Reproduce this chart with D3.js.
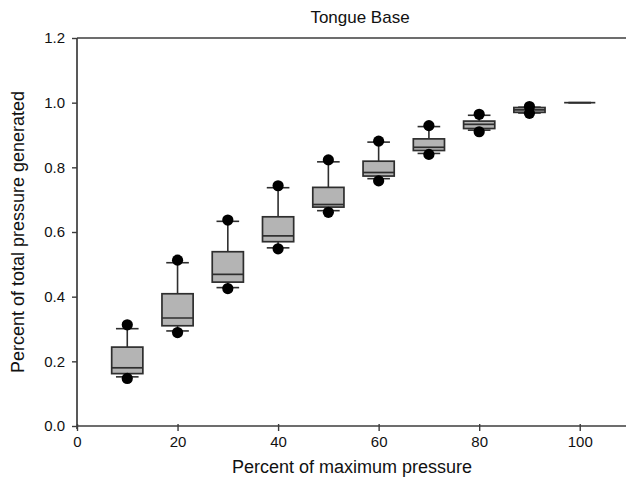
<!DOCTYPE html>
<html>
<head>
<meta charset="utf-8">
<script src="https://cdn.jsdelivr.net/npm/d3@7"></script>
<style>
  html, body { margin: 0; padding: 0; background: #fff; }
  svg { display: block; font-family: "Liberation Sans", Arial, sans-serif; }
</style>
</head>
<body>
<svg id="chart" width="626" height="479"></svg>
<script>
// ---- data ----
const categories   = [10, 20, 30, 40, 50, 60, 70, 80, 90, 100];
const outlierHigh  = [0.313, 0.513, 0.637, 0.743, 0.823, 0.881, 0.929, 0.964, 0.988, null];
const whiskerHigh  = [0.301, 0.505, 0.633, 0.737, 0.817, 0.878, 0.926, 0.961, 0.986, 1.0];
const q3Values     = [0.244, 0.409, 0.539, 0.647, 0.738, 0.819, 0.888, 0.943, 0.985, 1.0];
const medianValues = [0.180, 0.334, 0.469, 0.588, 0.685, 0.784, 0.862, 0.933, 0.978, 1.0];
const q1Values     = [0.162, 0.310, 0.445, 0.570, 0.677, 0.773, 0.852, 0.920, 0.970, 1.0];
const whiskerLow   = [0.152, 0.294, 0.428, 0.551, 0.666, 0.765, 0.843, 0.915, 0.968, 1.0];
const outlierLow   = [0.147, 0.289, 0.425, 0.548, 0.661, 0.758, 0.840, 0.910, 0.967, null];
const xTicks = [0, 20, 40, 60, 80, 100];
const yTicks = [0.0, 0.2, 0.4, 0.6, 0.8, 1.0, 1.2];
const titleText = "Tongue Base";
const xLabel = "Percent of maximum pressure";
const yLabel = "Percent of total pressure generated";

const rows = categories.map((c, i) => ({
  x: c, oh: outlierHigh[i], wh: whiskerHigh[i], q3: q3Values[i],
  med: medianValues[i], q1: q1Values[i], wl: whiskerLow[i], ol: outlierLow[i]
}));

// ---- layout ----
const svg = d3.select("#chart");
const plotL = 77, plotR = 630, plotT = 38, plotB = 426;
const x = d3.scaleLinear().domain([0, 110]).range([plotL, plotR]);
const y = d3.scaleLinear().domain([0, 1.2]).range([plotB, plotT]);
const axisColor = "#3c3c3c";
const boxW = (x(10) - x(0)) * 0.62;
const capW = (x(10) - x(0)) * 0.45;
const fontFam = "Liberation Sans, Arial, sans-serif";

// top frame line
svg.append("line")
  .attr("x1", plotL).attr("x2", 626).attr("y1", y(1.2)).attr("y2", y(1.2))
  .attr("stroke", axisColor).attr("stroke-width", 1.7);

// x axis
const gx = svg.append("g").attr("transform", `translate(0,${plotB})`)
  .call(d3.axisBottom(x).tickValues(xTicks).tickFormat(d3.format("d")).tickSize(5).tickPadding(5));
gx.select(".domain").attr("stroke", axisColor).attr("stroke-width", 1.7)
  .attr("d", `M${plotL},0H626`);
gx.selectAll(".tick line").attr("stroke", axisColor).attr("stroke-width", 1.4).attr("y1", -2);
gx.selectAll(".tick text").attr("font-size", 15).attr("fill", "#111").attr("font-family", fontFam);

// y axis
const gy = svg.append("g").attr("transform", `translate(${plotL},0)`)
  .call(d3.axisLeft(y).tickValues(yTicks).tickFormat(d3.format(".1f")).tickSize(5).tickPadding(7));
gy.select(".domain").attr("stroke", axisColor).attr("stroke-width", 1.7)
  .attr("d", `M0,${plotT}V${plotB + 3}`);
gy.selectAll(".tick line").attr("stroke", axisColor).attr("stroke-width", 1.4);
gy.selectAll(".tick text").attr("font-size", 15).attr("fill", "#111").attr("font-family", fontFam);

// ---- boxes ----
const g = svg.append("g");
const boxes = g.selectAll("g.box").data(rows).join("g").attr("class", "box");
const markStroke = "#2e2e2e";

// whiskers
boxes.append("line")
  .attr("x1", d => x(d.x)).attr("x2", d => x(d.x))
  .attr("y1", d => y(d.q3)).attr("y2", d => y(d.wh))
  .attr("stroke", markStroke).attr("stroke-width", 1.6);
boxes.append("line")
  .attr("x1", d => x(d.x)).attr("x2", d => x(d.x))
  .attr("y1", d => y(d.q1)).attr("y2", d => y(d.wl))
  .attr("stroke", markStroke).attr("stroke-width", 1.6);
// caps
boxes.append("line")
  .attr("x1", d => x(d.x) - capW / 2).attr("x2", d => x(d.x) + capW / 2)
  .attr("y1", d => y(d.wh)).attr("y2", d => y(d.wh))
  .attr("stroke", markStroke).attr("stroke-width", 1.6);
boxes.append("line")
  .attr("x1", d => x(d.x) - capW / 2).attr("x2", d => x(d.x) + capW / 2)
  .attr("y1", d => y(d.wl)).attr("y2", d => y(d.wl))
  .attr("stroke", markStroke).attr("stroke-width", 1.6);
// box
boxes.append("rect")
  .attr("x", d => x(d.x) - boxW / 2).attr("width", boxW)
  .attr("y", d => y(d.q3)).attr("height", d => y(d.q1) - y(d.q3))
  .attr("fill", "#b4b4b4").attr("stroke", markStroke).attr("stroke-width", 1.7);
// median
boxes.append("line")
  .attr("x1", d => x(d.x) - boxW / 2).attr("x2", d => x(d.x) + boxW / 2)
  .attr("y1", d => y(d.med)).attr("y2", d => y(d.med))
  .attr("stroke", markStroke).attr("stroke-width", 1.7);
// outliers
boxes.filter(d => d.oh != null).append("circle")
  .attr("cx", d => x(d.x)).attr("cy", d => y(d.oh)).attr("r", 5.6).attr("fill", "#000");
boxes.filter(d => d.ol != null).append("circle")
  .attr("cx", d => x(d.x)).attr("cy", d => y(d.ol)).attr("r", 5.6).attr("fill", "#000");

// ---- labels ----
svg.append("text").attr("x", 360).attr("y", 23)
  .attr("text-anchor", "middle").attr("font-size", 17).attr("fill", "#111")
  .attr("font-family", fontFam).text(titleText);
svg.append("text").attr("x", 352).attr("y", 473)
  .attr("text-anchor", "middle").attr("font-size", 18).attr("fill", "#111")
  .attr("font-family", fontFam).text(xLabel);
svg.append("text")
  .attr("transform", `translate(24,${(plotT + plotB) / 2}) rotate(-90)`)
  .attr("text-anchor", "middle").attr("font-size", 18).attr("fill", "#111")
  .attr("font-family", fontFam).text(yLabel);
</script>
</body>
</html>
